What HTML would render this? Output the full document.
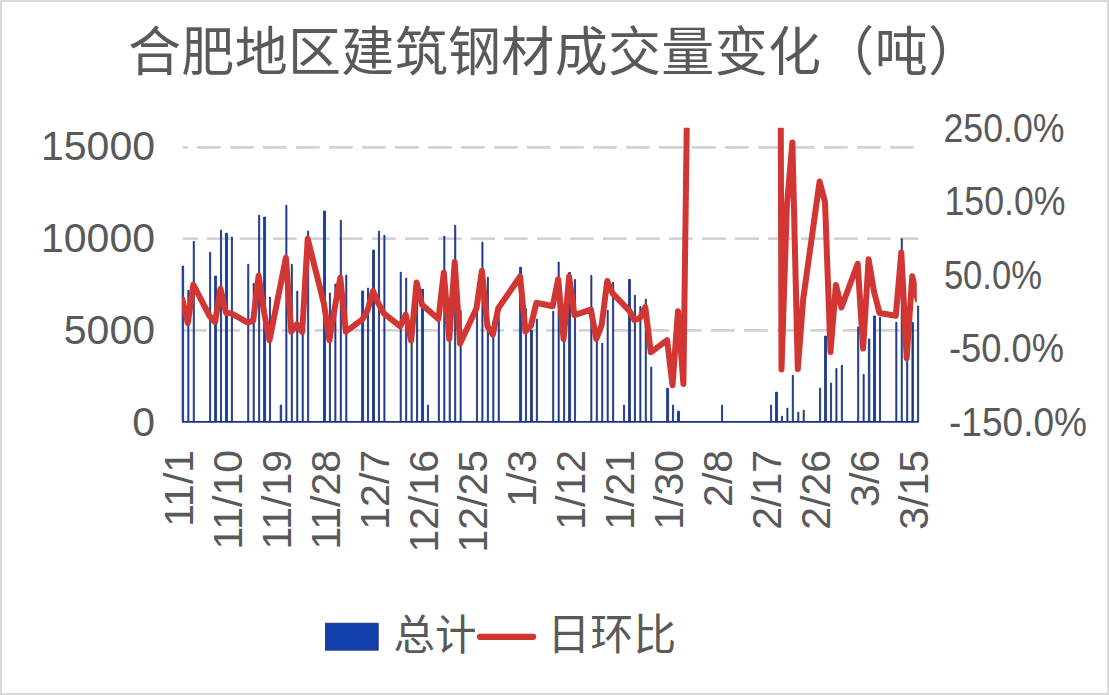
<!DOCTYPE html>
<html><head><meta charset="utf-8"><title>chart</title>
<style>html,body{margin:0;padding:0;background:#fff;font-family:"Liberation Sans",sans-serif}svg{display:block}</style></head><body>
<svg width="1109" height="695" viewBox="0 0 1109 695">
<defs>
<clipPath id="plot"><rect x="181.9" y="127.8" width="734.9" height="297.7"/></clipPath>
</defs>
<rect x="0" y="0" width="1109" height="695" fill="#fff"/>
<rect x="1" y="1" width="1107" height="693" fill="none" stroke="#D9D9D9" stroke-width="2"/>
<path d="M182.9 147.3H187.8M197.0 147.3H220.8M230.0 147.3H253.8M263.0 147.3H286.8M296.0 147.3H319.8M329.0 147.3H352.8M362.0 147.3H385.8M395.0 147.3H418.8M428.0 147.3H451.8M461.0 147.3H484.8M494.0 147.3H517.8M527.0 147.3H550.8M560.0 147.3H583.8M593.0 147.3H616.8M626.0 147.3H649.8M659.0 147.3H682.8M692.0 147.3H715.8M725.0 147.3H748.8M758.0 147.3H781.8M791.0 147.3H814.8M824.0 147.3H847.8M857.0 147.3H880.8M890.0 147.3H913.8" stroke="#D2D2DA" stroke-width="2.8" fill="none"/>
<path d="M182.9 238.7H197.8M207.0 238.7H230.8M240.0 238.7H263.8M273.0 238.7H296.8M306.0 238.7H329.8M339.0 238.7H362.8M372.0 238.7H395.8M405.0 238.7H428.8M438.0 238.7H461.8M471.0 238.7H494.8M504.0 238.7H527.8M537.0 238.7H560.8M570.0 238.7H593.8M603.0 238.7H626.8M636.0 238.7H659.8M669.0 238.7H692.8M702.0 238.7H725.8M735.0 238.7H758.8M768.0 238.7H791.8M801.0 238.7H824.8M834.0 238.7H857.8M867.0 238.7H890.8M900.0 238.7H918.4" stroke="#D2D2DA" stroke-width="2.8" fill="none"/>
<path d="M183.0 330.3H206.8M216.0 330.3H239.8M249.0 330.3H272.8M282.0 330.3H305.8M315.0 330.3H338.8M348.0 330.3H371.8M381.0 330.3H404.8M414.0 330.3H437.8M447.0 330.3H470.8M480.0 330.3H503.8M513.0 330.3H536.8M546.0 330.3H569.8M579.0 330.3H602.8M612.0 330.3H635.8M645.0 330.3H668.8M678.0 330.3H701.8M711.0 330.3H734.8M744.0 330.3H767.8M777.0 330.3H800.8M810.0 330.3H833.8M843.0 330.3H866.8M876.0 330.3H899.8M909.0 330.3H918.4" stroke="#D2D2DA" stroke-width="2.8" fill="none"/>
<path d="M182.15 421.5V266.0h1.5V421.5zM187.80 421.5V290.2h1.1V421.5zM193.24 421.5V241.3h1.1V421.5zM209.58 421.5V252.2h1.1V421.5zM214.58 421.5V276.0h2.0V421.5zM220.47 421.5V230.2h1.1V421.5zM225.47 421.5V233.2h2.0V421.5zM231.36 421.5V237.0h1.1V421.5zM247.70 421.5V264.3h1.1V421.5zM253.15 421.5V283.3h1.1V421.5zM258.59 421.5V215.2h1.1V421.5zM263.59 421.5V217.1h2.0V421.5zM269.49 421.5V297.1h1.1V421.5zM280.18 421.5V405.1h1.5V421.5zM285.82 421.5V205.2h1.1V421.5zM291.27 421.5V264.3h1.1V421.5zM296.72 421.5V291.2h1.1V421.5zM302.16 421.5V327.0h1.1V421.5zM307.61 421.5V231.1h1.1V421.5zM323.50 421.5V211.1h2.0V421.5zM329.39 421.5V293.1h1.1V421.5zM334.84 421.5V284.1h1.1V421.5zM340.28 421.5V220.2h1.1V421.5zM345.73 421.5V275.1h1.1V421.5zM361.62 421.5V291.0h2.0V421.5zM367.51 421.5V288.1h1.1V421.5zM372.51 421.5V250.1h2.0V421.5zM378.41 421.5V231.1h1.1V421.5zM383.85 421.5V235.3h1.1V421.5zM400.19 421.5V272.2h1.1V421.5zM405.64 421.5V278.1h1.1V421.5zM411.08 421.5V335.3h1.1V421.5zM416.53 421.5V301.5h1.1V421.5zM421.52 421.5V289.3h2.0V421.5zM427.42 421.5V405.1h1.1V421.5zM438.31 421.5V303.0h1.1V421.5zM443.76 421.5V236.3h1.1V421.5zM449.20 421.5V305.8h1.1V421.5zM454.65 421.5V225.2h1.1V421.5zM460.10 421.5V310.4h1.1V421.5zM476.43 421.5V306.2h1.1V421.5zM481.88 421.5V242.2h1.1V421.5zM487.33 421.5V277.2h1.1V421.5zM492.77 421.5V321.0h1.1V421.5zM498.22 421.5V317.4h1.1V421.5zM519.55 421.5V267.2h2.0V421.5zM525.45 421.5V308.7h1.1V421.5zM530.44 421.5V330.3h2.0V421.5zM536.34 421.5V319.1h1.1V421.5zM552.68 421.5V311.3h1.1V421.5zM558.12 421.5V262.1h1.1V421.5zM563.57 421.5V321.7h1.1V421.5zM568.57 421.5V272.5h2.0V421.5zM574.46 421.5V279.4h1.1V421.5zM590.80 421.5V275.4h1.1V421.5zM596.25 421.5V330.0h1.1V421.5zM601.69 421.5V343.3h1.1V421.5zM607.14 421.5V310.4h1.1V421.5zM612.58 421.5V282.3h1.1V421.5zM623.48 421.5V405.1h1.1V421.5zM628.47 421.5V279.4h2.0V421.5zM634.37 421.5V295.3h1.1V421.5zM639.81 421.5V306.5h1.1V421.5zM645.26 421.5V299.2h1.1V421.5zM650.71 421.5V367.0h1.1V421.5zM666.59 421.5V388.2h2.0V421.5zM672.49 421.5V405.1h1.1V421.5zM677.49 421.5V411.2h2.0V421.5zM721.50 421.5V405.1h1.1V421.5zM770.52 421.5V405.1h1.1V421.5zM775.51 421.5V392.2h2.0V421.5zM781.41 421.5V416.2h1.1V421.5zM786.86 421.5V408.1h1.1V421.5zM792.30 421.5V375.3h1.1V421.5zM797.75 421.5V412.1h1.1V421.5zM803.19 421.5V410.2h1.1V421.5zM819.53 421.5V388.2h1.1V421.5zM824.53 421.5V336.1h2.0V421.5zM830.42 421.5V383.0h1.1V421.5zM835.87 421.5V368.4h1.1V421.5zM841.32 421.5V365.3h1.1V421.5zM857.65 421.5V327.0h1.1V421.5zM863.10 421.5V374.4h1.1V421.5zM868.35 421.5V339.0h1.5V421.5zM873.54 421.5V316.0h2.0V421.5zM879.44 421.5V317.2h1.1V421.5zM895.78 421.5V322.2h1.1V421.5zM901.22 421.5V238.6h1.1V421.5zM906.67 421.5V355.0h1.1V421.5zM911.91 421.5V322.4h1.5V421.5zM917.56 421.5V306.0h1.1V421.5z" fill="#1240A8" stroke="#1B2F73" stroke-width="0.8"/>
<path d="M182.0 421.9H918.8" stroke="#17347F" stroke-width="1.9" fill="none"/>
<g clip-path="url(#plot)">
<polyline points="182.4,299.6 187.8,323.2 193.3,284.6 209.6,316.2 215.1,322.1 220.5,288.8 226.0,312.9 231.4,313.3 247.8,322.6 253.2,320.6 258.6,275.8 264.1,312.5 269.5,340.4 285.9,257.8 291.3,331.8 296.8,324.3 302.2,332.0 307.7,238.8 324.0,304.1 329.4,340.3 334.9,306.7 340.3,277.8 345.8,331.7 362.1,319.7 367.6,310.2 373.0,291.0 378.5,303.7 383.9,313.4 400.2,326.3 405.7,314.7 411.1,340.7 416.6,282.6 422.0,304.8 438.4,319.1 443.8,272.5 449.3,339.0 454.7,262.1 460.1,343.5 476.5,308.2 481.9,270.7 487.4,326.1 492.8,334.6 498.3,308.2 520.1,276.5 525.5,331.5 530.9,325.8 536.4,302.8 552.7,306.2 558.2,279.2 563.6,338.9 569.1,276.4 574.5,315.2 590.9,309.7 596.3,338.9 601.7,325.0 607.2,281.0 612.6,293.3 629.0,310.3 634.4,320.0 639.9,318.3 645.3,307.2 650.8,352.3 667.1,340.2 672.5,385.2 678.0,311.3 683.4,383.9 688.9,-40.0" fill="none" stroke="#D23632" stroke-width="6" stroke-linejoin="round" stroke-linecap="round"/>
<polyline points="776.0,-1500.0 781.5,369.5 786.9,205.0 792.4,142.5 797.8,369.0 803.2,299.0 819.6,181.5 825.0,202.0 830.5,351.9 835.9,284.9 841.4,307.5 857.7,263.8 863.1,348.5 868.6,259.3 874.0,291.4 879.5,313.0 895.8,315.8 901.3,252.4 906.7,358.1 912.2,276.2 917.6,299.7" fill="none" stroke="#D23632" stroke-width="6" stroke-linejoin="round" stroke-linecap="round"/>
</g>
<g fill="#595959" font-family="&quot;Liberation Sans&quot;, &quot;Noto Sans CJK SC&quot;, sans-serif">
<g font-size="41" text-anchor="end">
<text x="155" y="159.5">15000</text>
<text x="155" y="251.6">10000</text>
<text x="155" y="344.3">5000</text>
<text x="155" y="435.9">0</text>
</g>
<g font-size="41" text-anchor="start">
<text x="943.5" y="141.85" textLength="121" lengthAdjust="spacingAndGlyphs">250.0%</text>
<text x="944.5" y="214.95" textLength="121" lengthAdjust="spacingAndGlyphs">150.0%</text>
<text x="943.9" y="288.75" textLength="98" lengthAdjust="spacingAndGlyphs">50.0%</text>
<text x="949" y="361.55" textLength="115" lengthAdjust="spacingAndGlyphs">-50.0%</text>
<text x="949" y="435.85" textLength="138" lengthAdjust="spacingAndGlyphs">-150.0%</text>
</g>
<g font-size="41" text-anchor="end">
<text transform="translate(192.80 449.9) rotate(-90)" x="0" y="0">11/1</text>
<text transform="translate(241.81 449.9) rotate(-90)" x="0" y="0">11/10</text>
<text transform="translate(290.83 449.9) rotate(-90)" x="0" y="0">11/19</text>
<text transform="translate(339.84 449.9) rotate(-90)" x="0" y="0">11/28</text>
<text transform="translate(388.86 449.9) rotate(-90)" x="0" y="0">12/7</text>
<text transform="translate(437.87 449.9) rotate(-90)" x="0" y="0">12/16</text>
<text transform="translate(486.88 449.9) rotate(-90)" x="0" y="0">12/25</text>
<text transform="translate(535.90 449.9) rotate(-90)" x="0" y="0">1/3</text>
<text transform="translate(584.91 449.9) rotate(-90)" x="0" y="0">1/12</text>
<text transform="translate(633.93 449.9) rotate(-90)" x="0" y="0">1/21</text>
<text transform="translate(682.94 449.9) rotate(-90)" x="0" y="0">1/30</text>
<text transform="translate(731.95 449.9) rotate(-90)" x="0" y="0">2/8</text>
<text transform="translate(780.97 449.9) rotate(-90)" x="0" y="0">2/17</text>
<text transform="translate(829.98 449.9) rotate(-90)" x="0" y="0">2/26</text>
<text transform="translate(879.00 449.9) rotate(-90)" x="0" y="0">3/6</text>
<text transform="translate(928.01 449.9) rotate(-90)" x="0" y="0">3/15</text>
</g>
<text x="128" y="70.8" font-size="53" textLength="853" lengthAdjust="spacing">合肥地区建筑钢材成交量变化（吨）</text>
<text x="393.6" y="650" font-size="41.5">总计</text>
<text x="547.2" y="650" font-size="43">日环比</text>
</g>
<rect x="325.4" y="623.2" width="52.8" height="27" fill="#1240A8" stroke="#1B2F73" stroke-width="0.8"/>
<path d="M480 636.8H533.1" stroke="#D23632" stroke-width="6.2" stroke-linecap="round" fill="none"/>
</svg></body></html>
